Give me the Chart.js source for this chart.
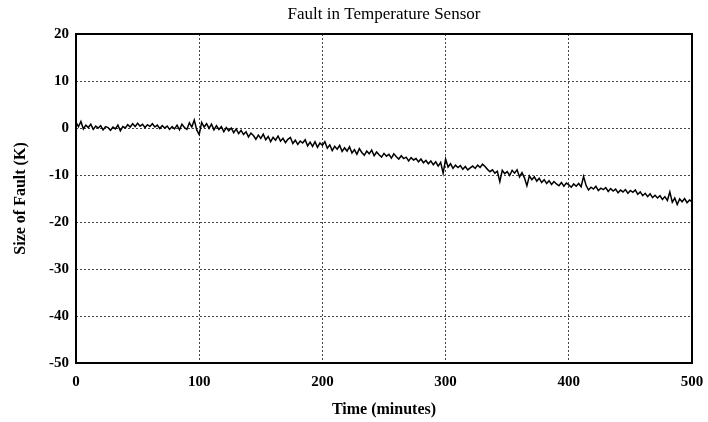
<!DOCTYPE html>
<html>
<head>
<meta charset="utf-8">
<script src="https://cdn.jsdelivr.net/npm/chart.js@4.4.1/dist/chart.umd.min.js"></script>
<style>
html,body{margin:0;padding:0;background:#fff;}
#wrap{width:708px;height:422px;}
</style>
</head>
<body>
<div id="wrap"><canvas id="c" width="708" height="422"></canvas></div>
<script>
const chartTitle = "Fault in Temperature Sensor";
const xTitle = "Time (minutes)";
const yTitle = "Size of Fault (K)";
const xTicks = [0, 100, 200, 300, 400, 500];
const yTicks = [20, 10, 0, -10, -20, -30, -40, -50];

const times = [
0,2,4,6,8,10,12,14,16,18,20,22,24,26,28,30,32,34,36,38,40,42,44,46,48,50,52,54,56,58,60,62,64,66,68,70,72,74,76,78,80,82,84,86,88,90,92,94,96,98,100,
102,104,106,108,110,112,114,116,118,120,122,124,126,128,130,132,134,136,138,140,142,144,146,148,150,152,154,156,158,160,162,164,166,168,170,172,174,176,178,180,182,184,186,188,190,192,194,196,198,200,
202,204,206,208,210,212,214,216,218,220,222,224,226,228,230,232,234,236,238,240,242,244,246,248,250,252,254,256,258,260,262,264,266,268,270,272,274,276,278,280,282,284,286,288,290,292,294,296,298,300,
302,304,306,308,310,312,314,316,318,320,322,324,326,328,330,332,334,336,338,340,342,344,346,348,350,352,354,356,358,360,362,364,366,368,370,372,374,376,378,380,382,384,386,388,390,392,394,396,398,400,
402,404,406,408,410,412,414,416,418,420,422,424,426,428,430,432,434,436,438,440,442,444,446,448,450,452,454,456,458,460,462,464,466,468,470,472,474,476,478,480,482,484,486,488,490,492,494,496,498,500
];

const fault = [
1.2,0.3,1.4,-0.2,0.6,0.1,0.8,-0.3,0.4,0.0,0.5,-0.4,0.3,0.1,-0.5,0.2,-0.2,0.6,-0.6,0.3,0.0,0.7,0.2,0.9,0.3,1.0,0.4,0.8,0.1,0.7,0.3,0.9,0.2,0.6,-0.1,0.5,0.0,0.4,-0.3,0.3,-0.2,0.6,-0.4,0.8,0.1,-0.3,1.1,0.2,1.7,-0.4,-1.4,
1.2,0.2,0.9,-0.1,0.8,-0.4,0.5,-0.3,0.3,-0.8,0.1,-0.6,0.0,-1.0,-0.2,-1.2,-0.5,-1.4,-0.8,-1.9,-1.1,-1.6,-2.4,-1.5,-2.2,-1.3,-2.5,-1.8,-2.9,-2.0,-2.6,-1.7,-2.8,-2.2,-3.1,-2.4,-2.0,-3.3,-2.6,-3.5,-2.8,-3.2,-2.5,-3.8,-3.0,-3.9,-2.9,-4.1,-3.2,-3.7,
-2.9,-4.3,-3.6,-4.8,-3.9,-4.5,-3.7,-5.0,-4.2,-4.9,-4.0,-5.3,-4.6,-5.6,-4.4,-5.2,-5.8,-4.9,-5.5,-4.7,-5.9,-5.1,-5.7,-6.2,-5.4,-6.0,-5.6,-6.4,-5.5,-6.1,-6.6,-5.9,-6.5,-6.2,-7.0,-6.3,-6.8,-6.5,-7.2,-6.6,-7.4,-6.9,-7.6,-7.0,-7.8,-7.2,-8.1,-7.3,-9.6,-6.6,
-8.3,-7.6,-8.6,-7.9,-8.4,-8.0,-8.8,-8.2,-8.9,-8.5,-8.1,-8.6,-7.9,-8.4,-7.7,-8.2,-8.8,-9.3,-8.9,-9.6,-9.2,-11.4,-9.0,-9.7,-9.3,-10.1,-9.0,-9.6,-8.9,-10.4,-9.5,-10.6,-12.3,-10.2,-11.0,-10.4,-11.3,-10.7,-11.6,-11.0,-11.8,-11.2,-12.0,-11.4,-11.9,-12.3,-11.6,-12.4,-11.7,-12.1,
-12.6,-11.9,-12.4,-11.8,-12.5,-10.3,-12.2,-13.2,-12.6,-13.0,-12.4,-13.3,-12.8,-13.1,-12.7,-13.5,-12.9,-13.4,-13.0,-13.8,-13.2,-13.6,-13.1,-13.9,-13.3,-13.7,-13.2,-14.1,-13.6,-14.4,-13.9,-14.6,-14.0,-14.8,-14.3,-14.9,-14.4,-15.2,-14.6,-15.4,-13.6,-15.8,-14.9,-16.3,-15.1,-15.7,-15.0,-15.9,-15.3,-15.7
];

const points = times.map((t, i) => ({ x: t, y: fault[i] }));

const frame = {
  id: 'frame',
  afterDraw(chart) {
    const a = chart.chartArea, ctx = chart.ctx;
    ctx.save();
    ctx.strokeStyle = '#000';
    ctx.lineWidth = 2;
    ctx.strokeRect(a.left, a.top, a.right - a.left, a.bottom - a.top);
    ctx.restore();
  }
};

const serif = "'Liberation Serif', 'Times New Roman', serif";

new Chart(document.getElementById('c'), {
  type: 'line',
  data: {
    datasets: [{
      data: points,
      borderColor: '#000',
      borderWidth: 1.5,
      pointRadius: 0,
      tension: 0,
      fill: false
    }]
  },
  options: {
    responsive: false,
    animation: false,
    layout: { padding: { left: 0, right: 16, top: 0, bottom: 0 } },
    plugins: {
      legend: { display: false },
      tooltip: { enabled: false },
      title: {
        display: true,
        fullSize: false,
        text: chartTitle,
        color: '#000',
        font: { family: serif, size: 17, weight: 'normal' },
        padding: { top: 4, bottom: 9.6 }
      }
    },
    scales: {
      x: {
        type: 'linear',
        min: 0, max: 500,
        afterBuildTicks(s) { s.ticks = xTicks.map(v => ({ value: v })); },
        afterFit(s) { s.height = 59; s.paddingRight = 0; s.paddingLeft = 0; },
        ticks: { color: '#000', padding: 10, maxRotation: 0, autoSkip: false,
                 font: { family: serif, size: 15, weight: 'bold' } },
        grid: { color: '#444', lineWidth: 1, drawTicks: false },
        border: { display: false, dash: [2, 2] },
        title: { display: true, text: xTitle, color: '#000',
                 font: { family: serif, size: 16, weight: 'bold' },
                 padding: { top: 4, bottom: 3 } }
      },
      y: {
        type: 'linear',
        min: -50, max: 20,
        afterBuildTicks(s) { s.ticks = yTicks.map(v => ({ value: v })); },
        afterFit(s) { s.width = 76; },
        ticks: { color: '#000', padding: 7,
                 font: { family: serif, size: 15, weight: 'bold' } },
        grid: { color: '#444', lineWidth: 1, drawTicks: false },
        border: { display: false, dash: [2, 2] },
        title: { display: true, text: yTitle, color: '#000',
                 font: { family: serif, size: 16, weight: 'bold' },
                 padding: { top: 11, bottom: 4 } }
      }
    }
  },
  plugins: [frame]
});
</script>
</body>
</html>
